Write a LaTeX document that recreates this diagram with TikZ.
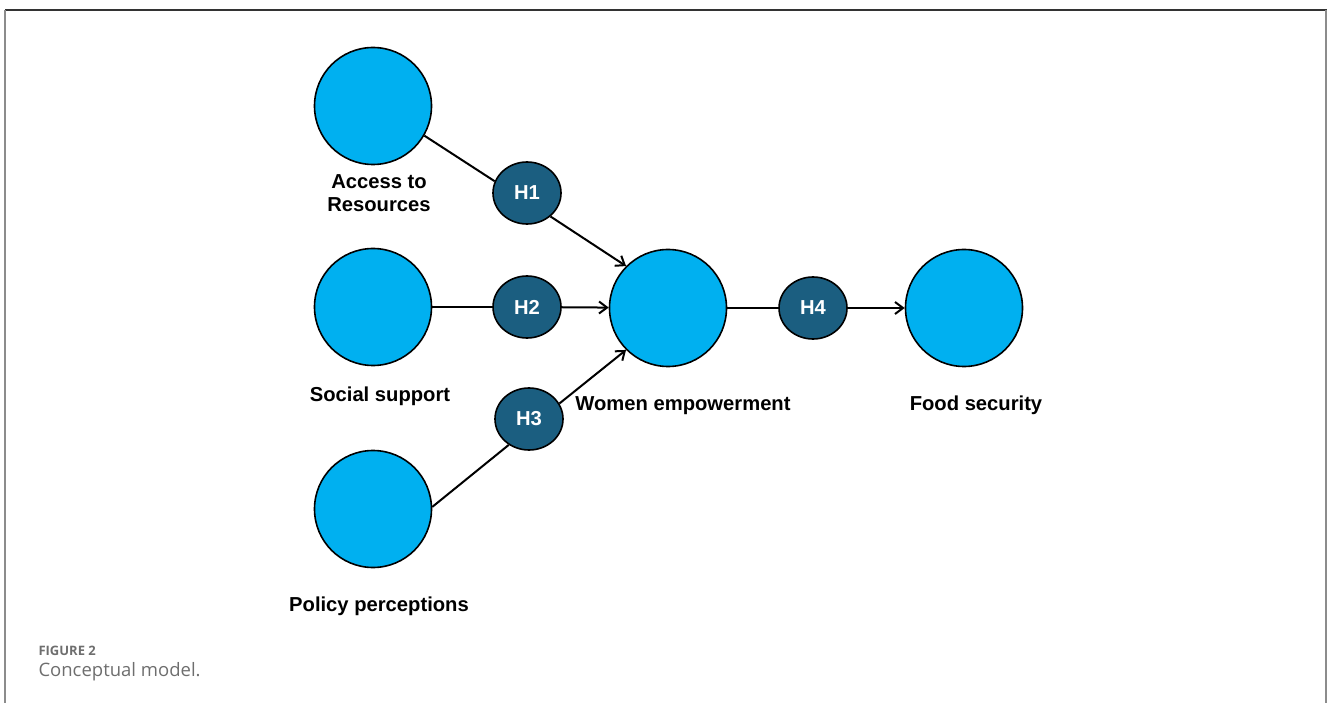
\documentclass[tikz,border=0pt]{standalone}
\usepackage{fontspec}
\setmainfont{Liberation Sans}
\newfontfamily\capfont{Open Sans}
\usetikzlibrary{positioning, arrows.meta, shapes}
\usepackage{xcolor}
\definecolor{construct}{HTML}{00B0F0}
\definecolor{hypo}{HTML}{1B5E80}
\definecolor{capgray}{HTML}{6E6E6E}

\begin{document}
\begin{tikzpicture}[x=1pt, y=-1pt,
  var/.style={circle, draw=black, line width=1.6pt, fill=construct, minimum size=117pt, inner sep=0pt},
  hyp/.style={ellipse, draw=black, line width=1.6pt, fill=hypo, minimum width=68pt, minimum height=62pt, inner sep=0pt, text=white, font=\bfseries\fontsize{20.2}{24}\selectfont},
  lbl/.style={anchor=base, font=\bfseries\fontsize{20.2}{23.4}\selectfont, align=center},
  link/.style={line width=2pt},
  arr/.style={line width=2pt, -{Straight Barb[length=8pt,width=12pt]}}]
\useasboundingbox (0,0) rectangle (1328,703);
% Frame
\draw[black!80, line width=1.3pt] (5,10) -- (1327,10);
\draw[black!45, line width=2pt] (5,10) -- (5,703);
\draw[black!45, line width=2pt] (1326,10) -- (1326,703);
% Constructs
\node[var] (acc) at (373,106) {};
\node[var] (soc) at (373,307) {};
\node[var] (pol) at (373,509) {};
\node[var] (we) at (668,308) {};
\node[var] (fs) at (964,308) {};
\node[lbl] at (379,211.7) {Access to\\Resources};
\node[lbl] at (380,401) {Social support};
\node[lbl] at (379,611.5) {Policy perceptions};
\node[lbl] at (683,410) {Women empowerment};
\node[lbl] at (976,410.5) {Food security};
% Hypotheses
\node[hyp] (h1) at (527,193) {H1};
\node[hyp] (h2) at (527,307) {H2};
\node[hyp] (h3) at (529,419) {H3};
\node[hyp] (h4) at (813,308) {H4};
% Paths
\draw[link] (acc.-30) -- (h1.160);
\draw[arr] (h1.-45) -- (we.135);
\draw[link] (soc) -- (h2);
\draw[arr] (h2) -- (we);
\draw[link] (pol.2) -- (h3.232);
\draw[arr] (h3.27) -- (we.225);
\draw[link] (we) -- (h4);
\draw[arr] (h4) -- (fs);
% Caption
\node[anchor=base west, capgray, font=\capfont\bfseries\fontsize{13}{15}\selectfont] (fig) at (35,655) {FIGURE 2};
\node[anchor=base west, capgray, font=\capfont\fontsize{18.5}{22}\selectfont] (cap) at (35,676.7) {Conceptual model.};
\end{tikzpicture}
\end{document}
